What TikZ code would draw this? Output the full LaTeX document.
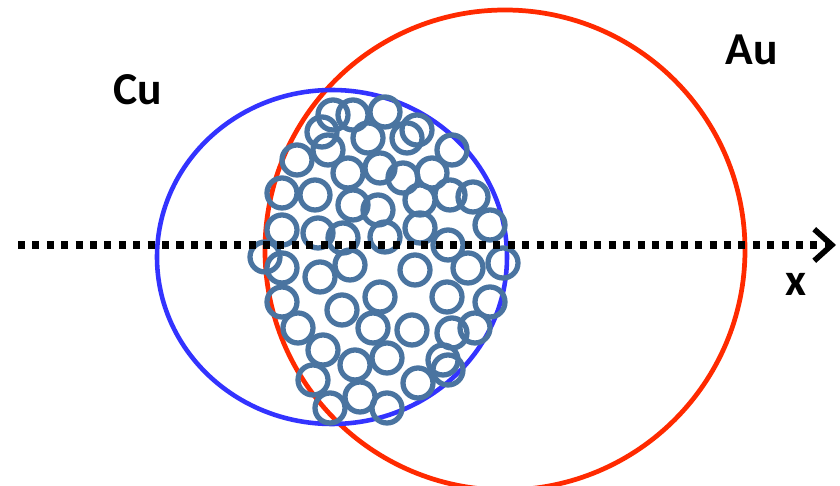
\documentclass[tikz,border=0pt]{standalone}
\usepackage{fontspec}
\setmainfont{Carlito}
\usetikzlibrary{arrows.meta}
\definecolor{cured}{HTML}{FF2A00}
\definecolor{cublue}{HTML}{3333FF}
\definecolor{ptblue}{HTML}{4A74A0}
\tikzset{
  grain/.style={ptblue,line width=3pt},
  elem/.style={font=\fontsize{26}{30}\selectfont\bfseries}
}
\begin{document}
\begin{tikzpicture}[x=0.02cm,y=-0.02cm]
  \useasboundingbox (0,0) rectangle (840,486);

  % Cu and Au regions
  \draw[cured,line width=2.7pt] (505,250) circle (240);
  \draw[cublue,line width=2.6pt] (332,257) ellipse (175 and 167);

  % Nanoparticles
  \foreach \px/\py in {333/115,353/115,385/112,322/132,328/150,368/138,407/138,417/130,
      452/150,297/160,348/173,380/168,403/178,432/173,282/193,315/195,353/205,378/210,
      420/200,450/195,473/197,490/225,282/230,318/233,343/238,385/237,420/228,448/245,
      265/257,282/268,320/277,350/265,415/270,468/268,503/263,282/302,342/310,380/297,
      447/297,490/302,298/328,373/328,412/330,452/333,475/328,323/350,355/365,387/358,
      443/360,448/370,313/380,418/383,360/397,330/408,387/408} {
    \draw[grain] (\px,\py) circle (15);
  }

  % Axis
  \coordinate (xstart) at (18,245);
  \coordinate (xend) at (836,245);
  \draw[line width=4pt,dash pattern=on 4pt off 4.2pt,
        -{Straight Barb[length=10pt,width=18pt,line width=3.2pt]}] (xstart) -- (xend);

  % Labels
  \node[elem] (cu) at (138,90) {Cu};
  \node[elem] (au) at (752,50) {Au};
  \node[elem] (xlab) at (796,284) {x};
\end{tikzpicture}
\end{document}
